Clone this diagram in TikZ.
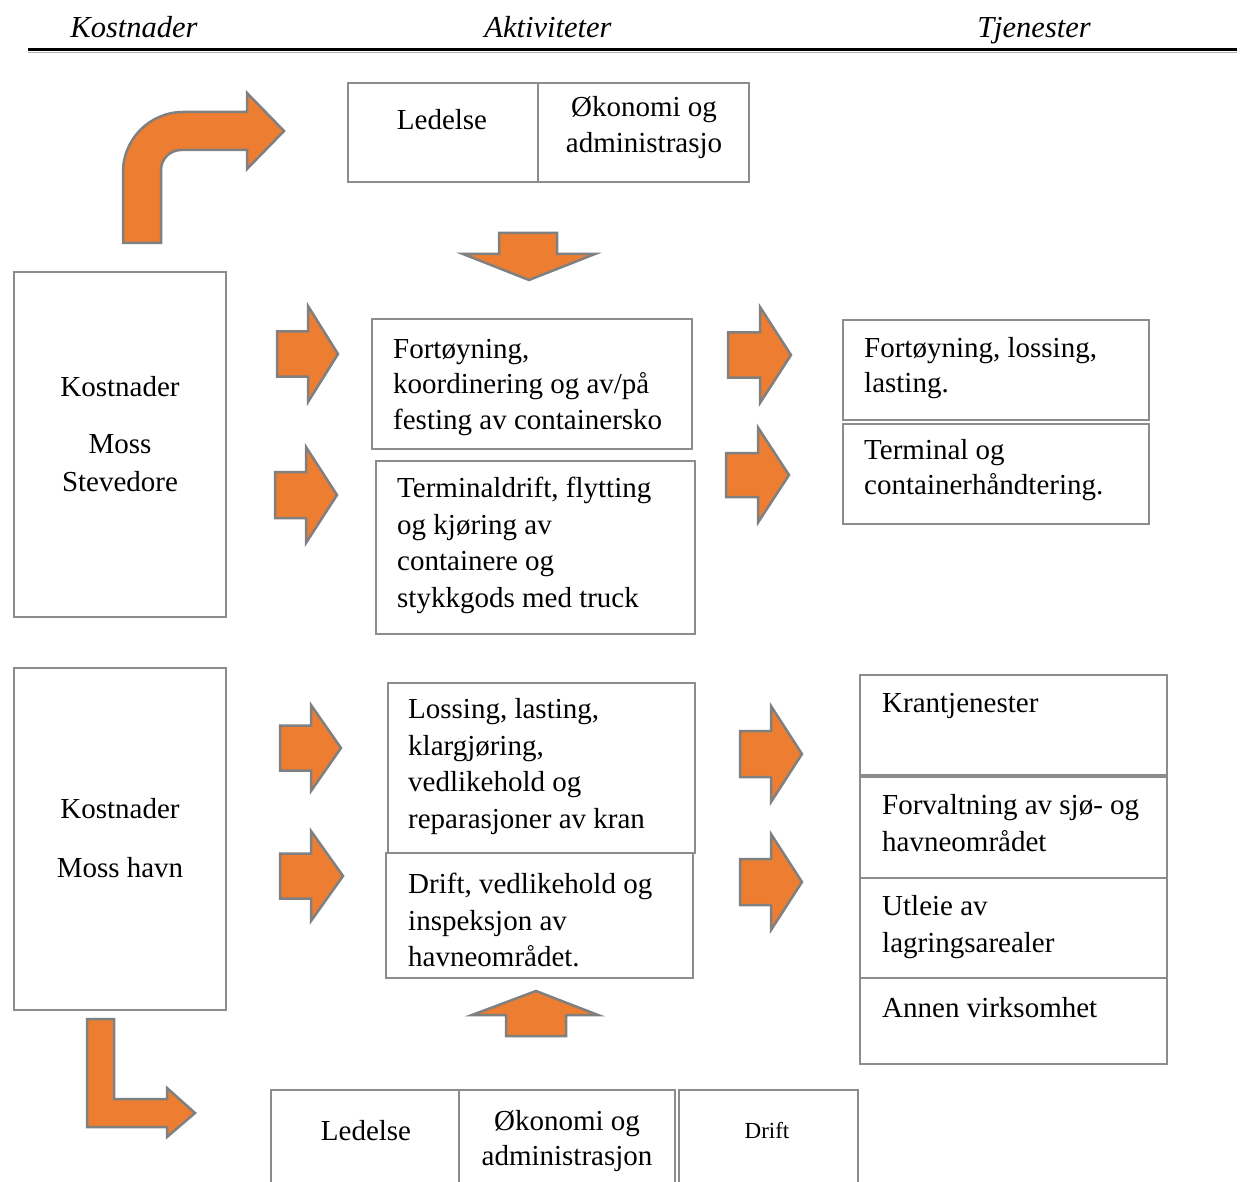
\documentclass[tikz,border=0pt]{standalone}
\usepackage{fontspec}
\setmainfont{Liberation Serif}
\definecolor{myorange}{HTML}{ED7D31}
\definecolor{arrowgray}{HTML}{808080}
\definecolor{boxgray}{HTML}{8C8C8C}
\newcommand\rblock[6]{\draw[blockarrow] (#1,#4-#5) -- (#2,#4-#5) -- (#2,#4-#6) -- (#3,#4) -- (#2,#4+#6) -- (#2,#4+#5) -- (#1,#4+#5) -- cycle;}
\begin{document}
\begin{tikzpicture}[x=1pt,y=-1pt,
  blockarrow/.style={fill=myorange,draw=arrowgray,line width=2.5pt,line join=miter},
  boxline/.style={draw=boxgray,line width=2pt},
  hdr/.style={font=\fontsize{30.5}{36}\selectfont\itshape,anchor=base,inner sep=0},
  txt/.style={font=\fontsize{29}{35.5}\selectfont,inner sep=0,align=left,anchor=north west},
  txtb/.style={font=\fontsize{29}{36.8}\selectfont,inner sep=0,align=left,anchor=north west},
  ctxt/.style={font=\fontsize{29}{36}\selectfont,inner sep=0,align=center,anchor=north},
  one/.style={font=\fontsize{29}{36}\selectfont,inner sep=0,anchor=base}
]
\useasboundingbox (0,0) rectangle (1240,1182);
\fill[white] (0,0) rectangle (1240,1182);

% headers
\node[hdr] (h1) at (134,38) {Kostnader};
\node[hdr] (h2) at (548,38) {Aktiviteter};
\node[hdr] (h3) at (1034,38) {Tjenester};
\draw[line width=1.5pt,gray!60] (28,52.5) -- (1237,52.5);
\draw[line width=3pt,black] (28,50) -- (1237,50);

% curved arrow top left
\draw[blockarrow] (123,243) -- (123,172) .. controls (123,139) and (150,112) .. (183,112) -- (247,112) -- (247,93) -- (284,131) -- (247,169) -- (247,150) -- (181,150) .. controls (170,150) and (161,159) .. (161,170) -- (161,243) -- cycle;

% top box
\draw[boxline] (348,83) rectangle (749,182);
\draw[boxline] (538,83) -- (538,182);
\node[one] (tl) at (442,130) {Ledelse};
\node[ctxt] (to) at (644,92) {\rule{0pt}{24pt}Økonomi og\\[0.5pt]administrasjo};

% down arrow
\draw[blockarrow] (499,233) -- (557,233) -- (557,254) -- (595,254) -- (529,280) -- (463,254) -- (499,254) -- cycle;

% left box 1
\draw[boxline] (14,272) rectangle (226,617);
\node[one] (k1) at (120,396) {Kostnader};
\node[one] (k1b) at (120,453) {Moss};
\node[one] (k1c) at (120,491) {Stevedore};

% arrows into upper activities
\rblock{277}{308}{338}{354}{22.5}{48}
\rblock{275}{306}{337}{495}{23}{48}

% upper activity boxes
\draw[boxline] (372,319) rectangle (692,449);
\node[txt] (a1) at (393,334) {\rule{0pt}{24pt}Fortøyning,\\koordinering og av/på\\festing av containersko};
\draw[boxline] (376,461) rectangle (695,634);
\node[txtb] (a2) at (397,473) {\rule{0pt}{24pt}Terminaldrift, flytting\\og kjøring av\\containere og\\stykkgods med truck};

% arrows to upper services
\rblock{728}{760}{791}{355}{22.5}{48}
\rblock{726}{758}{789}{475}{22}{47.5}

% upper service boxes
\draw[boxline] (843,320) rectangle (1149,420);
\node[txt] (s1) at (864,333) {\rule{0pt}{24pt}Fortøyning, lossing,\\lasting.};
\draw[boxline] (843,424) rectangle (1149,524);
\node[txt] (s2) at (864,435) {\rule{0pt}{24pt}Terminal og\\containerhåndtering.};

% left box 2
\draw[boxline] (14,668) rectangle (226,1010);
\node[one] (k2) at (120,818) {Kostnader};
\node[one] (k2b) at (120,877) {Moss havn};

% arrows into lower activities
\rblock{280}{311}{341}{748}{22.5}{43}
\rblock{280}{311}{343}{876}{22.5}{45}

% lower activity boxes
\draw[boxline] (388,683) rectangle (695,853);
\node[txtb] (a3) at (408,694) {\rule{0pt}{24pt}Lossing, lasting,\\klargjøring,\\vedlikehold og\\reparasjoner av kran};
\draw[boxline] (386,853) rectangle (693,978);
\node[txtb] (a4) at (408,869) {\rule{0pt}{24pt}Drift, vedlikehold og\\inspeksjon av\\havneområdet.};

% arrows to lower services
\rblock{740}{771}{802}{754}{23}{48}
\rblock{740}{771}{802}{882}{23}{48}

% lower service boxes
\draw[boxline] (860,675) rectangle (1167,775);
\node[one,anchor=base west] (s3) at (882,712) {Krantjenester};
\draw[boxline] (860,777) rectangle (1167,878);
\node[txtb] (s4) at (882,790) {\rule{0pt}{24pt}Forvaltning av sjø- og\\havneområdet};
\draw[boxline] (860,878) rectangle (1167,978);
\node[txtb] (s5) at (882,891) {\rule{0pt}{24pt}Utleie av\\lagringsarealer};
\draw[boxline] (860,978) rectangle (1167,1064);
\node[one,anchor=base west] (s6) at (882,1017) {Annen virksomhet};

% up arrow
\draw[blockarrow] (536,991) -- (598,1015) -- (566,1015) -- (566,1036) -- (506,1036) -- (506,1015) -- (472,1015) -- cycle;

% L arrow
\draw[blockarrow] (87,1019) -- (114,1019) -- (114,1099) -- (167,1099) -- (167,1088) -- (195,1113) -- (167,1137) -- (167,1127) -- (87,1127) -- cycle;

% bottom boxes
\draw[boxline] (271,1090) rectangle (675,1200);
\draw[boxline] (459,1090) -- (459,1200);
\draw[boxline] (679,1090) rectangle (858,1200);
\node[one] (bl) at (366,1140) {Ledelse};
\node[ctxt] (bo) at (567,1106) {\rule{0pt}{24pt}Økonomi og\\[-1pt]administrasjon};
\node[font=\fontsize{23}{28}\selectfont,inner sep=0,anchor=base] (bd) at (767,1138) {Drift};
\end{tikzpicture}
\end{document}
